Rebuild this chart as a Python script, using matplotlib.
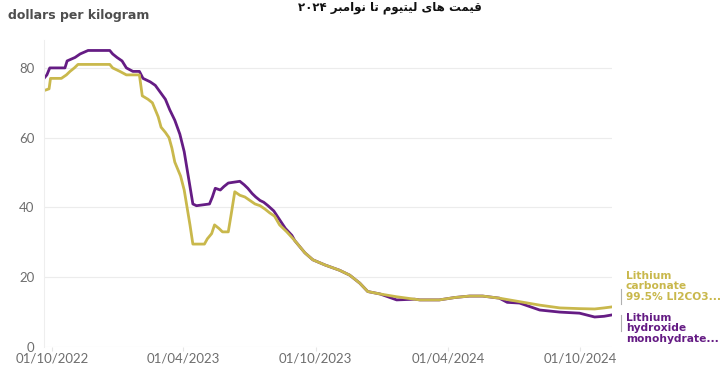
import numpy as np
import pandas as pd
import matplotlib
matplotlib.use("Agg")
import matplotlib.pyplot as plt
import matplotlib.dates as mdates

# Lithium hydroxide monohydrate (purple), dollars per kilogram
hyd_dates = ["2022-09-20", "2022-09-24", "2022-09-28", "2022-10-19", "2022-10-22",
             "2022-11-02", "2022-11-09", "2022-11-20", "2022-12-20", "2022-12-24",
             "2022-12-30", "2023-01-06", "2023-01-12", "2023-01-21", "2023-01-30",
             "2023-02-04", "2023-02-14", "2023-02-21", "2023-02-28", "2023-03-07",
             "2023-03-13", "2023-03-20", "2023-03-27", "2023-04-02", "2023-04-06",
             "2023-04-10", "2023-04-14", "2023-04-19", "2023-05-07", "2023-05-11",
             "2023-05-15", "2023-05-22", "2023-05-27", "2023-06-02", "2023-06-18",
             "2023-06-24", "2023-06-29", "2023-07-05", "2023-07-10", "2023-07-16",
             "2023-07-21", "2023-07-27", "2023-08-04", "2023-08-12", "2023-08-20",
             "2023-08-29", "2023-09-02", "2023-09-16", "2023-09-27", "2023-10-14",
             "2023-11-03", "2023-11-17", "2023-12-01", "2023-12-12", "2023-12-29",
             "2024-01-21", "2024-02-15", "2024-02-22", "2024-03-20", "2024-04-11",
             "2024-05-01", "2024-05-19", "2024-06-11", "2024-06-22", "2024-07-09",
             "2024-08-06", "2024-09-03", "2024-09-30", "2024-10-21", "2024-11-03",
             "2024-11-14"]
hyd_values = [77, 78, 80, 80, 82,
              83, 84, 85, 85, 84,
              83, 82, 80, 79, 79,
              77, 76, 75, 73, 71,
              68, 65, 61, 56, 51,
              46, 41, 40.5, 41, 43,
              45.5, 45, 46, 47, 47.5,
              46.5, 45.5, 44, 43, 42,
              41.5, 40.5, 39, 36.5, 34,
              32, 30.5, 27, 25, 23.5,
              22, 20.6, 18.3, 15.9, 15.2,
              13.5, 13.7, 13.5, 13.5, 14.2,
              14.6, 14.6, 14, 12.8, 12.6,
              10.6, 10, 9.7, 8.6, 8.8,
              9.2]

# Lithium carbonate 99.5% Li2CO3 (gold)
carb_dates = ["2022-09-20", "2022-09-27", "2022-09-29", "2022-10-14", "2022-10-21",
              "2022-10-26", "2022-11-01", "2022-11-06", "2022-12-20", "2022-12-24",
              "2023-01-03", "2023-01-12", "2023-01-30", "2023-02-03", "2023-02-11",
              "2023-02-17", "2023-02-21", "2023-02-25", "2023-03-01", "2023-03-07",
              "2023-03-12", "2023-03-16", "2023-03-20", "2023-03-24", "2023-03-28",
              "2023-04-02", "2023-04-06", "2023-04-10", "2023-04-14", "2023-04-30",
              "2023-05-04", "2023-05-10", "2023-05-14", "2023-05-20", "2023-05-25",
              "2023-06-02", "2023-06-06", "2023-06-11", "2023-06-18", "2023-06-25",
              "2023-07-02", "2023-07-09", "2023-07-16", "2023-07-23", "2023-07-29",
              "2023-08-05", "2023-08-12", "2023-08-22", "2023-09-02", "2023-09-16",
              "2023-09-27", "2023-10-14", "2023-11-03", "2023-11-17", "2023-12-01",
              "2023-12-12", "2023-12-29", "2024-01-21", "2024-02-22", "2024-03-20",
              "2024-04-11", "2024-05-01", "2024-05-19", "2024-06-11", "2024-07-09",
              "2024-08-06", "2024-09-03", "2024-09-30", "2024-10-21", "2024-11-03",
              "2024-11-14"]
carb_values = [73.5, 74, 77, 77, 78,
               79, 80, 81, 81, 80,
               79, 78, 78, 72, 71,
               70, 68, 66, 63, 61.5,
               60, 57, 53, 51, 49,
               45, 40, 35, 29.5, 29.5,
               31, 32.5, 35, 34, 33,
               33, 38, 44.5, 43.5, 43,
               42, 41, 40.5, 39.5, 38.5,
               37.5, 35, 33, 30.5, 27,
               25, 23.5, 22, 20.6, 18.3,
               15.9, 15.2, 14.4, 13.5, 13.5,
               14.2, 14.6, 14.6, 14, 13,
               12, 11.2, 11, 10.9, 11.2,
               11.5]

yticks = [0, 20, 40, 60, 80]
xtick_dates = ["2022-10-01", "2023-04-01", "2023-10-01", "2024-04-01", "2024-10-01"]

purple = "#651c84"
gold = "#c9b84c"

plt.rcParams['font.family'] = ['Lato', 'DejaVu Sans']

fig = plt.figure(figsize=(7.25, 3.68), dpi=100)
ax = fig.add_axes([44 / 725, 21 / 368, (612 - 44) / 725, 307 / 368])

ax.plot(pd.to_datetime(hyd_dates), hyd_values, color=purple, lw=2.0, solid_joinstyle='round')
ax.plot(pd.to_datetime(carb_dates), carb_values, color=gold, lw=2.0, solid_joinstyle='round')

ax.set_ylim(0, 88)
ax.set_xlim(pd.Timestamp("2022-09-20"), pd.Timestamp("2024-11-14"))
ax.set_yticks(yticks)
ax.set_xticks(pd.to_datetime(xtick_dates))
ax.xaxis.set_major_formatter(mdates.DateFormatter("%d/%m/%Y"))
ax.grid(axis='y', color='#ececec', lw=0.8)
ax.set_axisbelow(True)
for s in ['top', 'right', 'bottom']:
    ax.spines[s].set_visible(False)
ax.spines['left'].set_color('#eeeeee')
ax.tick_params(axis='y', length=0, pad=7, labelsize=9.5, labelcolor='#6e6e6e')
ax.tick_params(axis='x', length=3, color='#e6e6e6', pad=1, labelsize=9.5, labelcolor='#6e6e6e')

fig.text(8 / 725, 1 - 15 / 368, "dollars per kilogram", fontsize=9, fontweight='bold',
         color='#4e4e4e', va='center', ha='left', family='DejaVu Sans')

# series labels on the right
fig.text(626 / 725, 1 - 271 / 368, "Lithium\ncarbonate\n99.5% LI2CO3...", fontsize=7.7,
         fontweight='bold', color=gold, va='top', ha='left', linespacing=1.05,
         family='DejaVu Sans')
fig.text(626 / 725, 1 - 313 / 368, "Lithium\nhydroxide\nmonohydrate...", fontsize=7.7,
         fontweight='bold', color=purple, va='top', ha='left', linespacing=1.05,
         family='DejaVu Sans')
fig.add_artist(plt.Line2D([621 / 725, 621 / 725], [1 - 289 / 368, 1 - 304 / 368],
                          color='#b0b0b0', lw=0.8))
fig.add_artist(plt.Line2D([621 / 725, 621 / 725], [1 - 315 / 368, 1 - 331 / 368],
                          color='#b0b0b0', lw=0.8))

# Persian title (pre-shaped glyphs, visual order)
title = ("\u06F2\u06F0\u06F2\u06F4 "
         "\uFEAE\uFE92\uFEE3\uFE8D\uFEEE\uFEE7 "
         "\uFE8E\uFE97 "
         "\uFEE1\uFEEE\uFEF4\uFE98\uFEF4\uFEDF "
         "\uFEEF\uFE8E\uFEEB "
         "\uFE96\uFEE4\uFEF4\uFED7")
fig.text(390 / 725, 1 - 1 / 368, title, fontsize=8.5, fontweight='bold', color='#111111',
         ha='center', va='top', family='DejaVu Sans')

fig.savefig("out.png", dpi=100)
